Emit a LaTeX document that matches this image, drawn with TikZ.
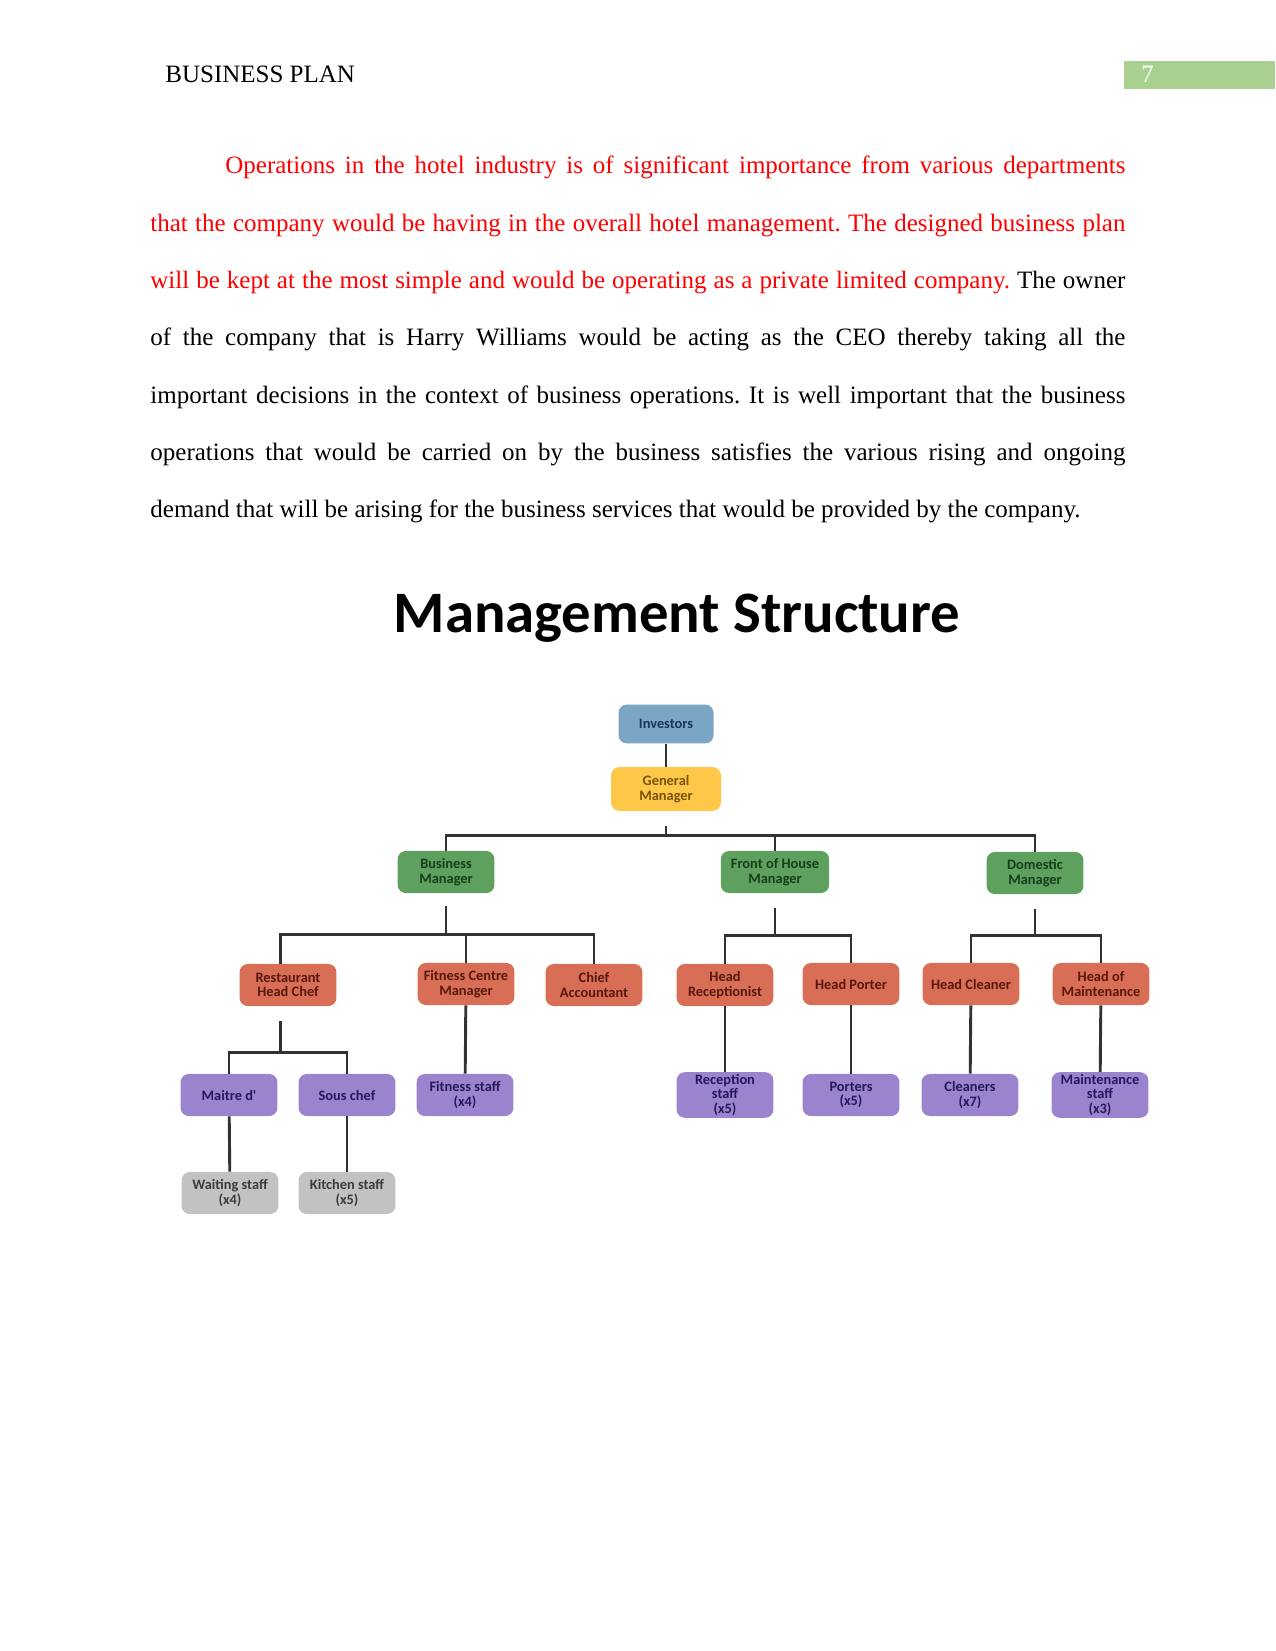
\documentclass[tikz,border=0pt]{standalone}
\usepackage{fontspec}
\setmainfont{Liberation Serif}
\newfontfamily\chartfont{Carlito}
\usepackage{tikz}
\usetikzlibrary{calc,positioning}
\definecolor{PlanRed}{RGB}{255,0,0}
\definecolor{PlanTab}{RGB}{169,208,142}
\definecolor{OrgLine}{RGB}{50,50,50}
\definecolor{OrgBlue}{RGB}{122,166,196}
\definecolor{OrgBlueText}{RGB}{28,52,92}
\definecolor{OrgGold}{RGB}{255,200,72}
\definecolor{OrgGoldText}{RGB}{120,84,10}
\definecolor{OrgGreen}{RGB}{94,160,94}
\definecolor{OrgGreenText}{RGB}{22,62,26}
\definecolor{OrgRed}{RGB}{216,110,86}
\definecolor{OrgRedText}{RGB}{88,24,14}
\definecolor{OrgPurple}{RGB}{155,132,205}
\definecolor{OrgPurpleText}{RGB}{40,24,90}
\definecolor{OrgGrey}{RGB}{194,194,194}
\definecolor{OrgGreyText}{RGB}{60,60,60}

\begin{document}
\begin{tikzpicture}[x=0.48pt,y=-0.48pt,
  orgbox/.style={rounded corners=4pt,minimum width=46.5pt,minimum height=20.2pt,inner sep=1pt,align=center,
    font=\chartfont\bfseries\fontsize{6.9}{7}\selectfont},
  invbox/.style={orgbox,fill=OrgBlue,text=OrgBlueText,minimum width=45.6pt,minimum height=18.7pt},
  gmbox/.style={orgbox,fill=OrgGold,text=OrgGoldText,minimum width=52.8pt,minimum height=21pt},
  mgrbox/.style={orgbox,fill=OrgGreen,text=OrgGreenText},
  headbox/.style={orgbox,fill=OrgRed,text=OrgRedText},
  staffbox/.style={orgbox,fill=OrgPurple,text=OrgPurpleText},
  crewbox/.style={orgbox,fill=OrgGrey,text=OrgGreyText},
  orgline/.style={OrgLine,line width=1.4pt}]
  \useasboundingbox (0,0) rectangle (1275,1651);
  \node[anchor=base west,inner sep=0,font=\fontsize{12}{14}\selectfont] (head) at (165,83) {BUSINESS PLAN};
  \fill[PlanTab] (1124,61) rectangle (1275,89);
  \node[anchor=base west,inner sep=0,text=white,font=\fontsize{12}{14}\selectfont] (pagenum) at (1141,83) {7};
  \node[anchor=base west,inner sep=0,text width=468pt,align=justify,
    font=\fontsize{12}{27.5}\selectfont\frenchspacing] (para) at (150,174) {\hspace*{36pt}\textcolor{PlanRed}{Operations in the hotel industry is of significant importance from various departments\linebreak
    that the company would be having in the overall hotel management. The designed business plan\linebreak
    will be kept at the most simple and would be operating as a private limited company.} The owner\linebreak
    of the company that is Harry Williams would be acting as the CEO thereby taking all the\linebreak
    important decisions in the context of business operations. It is well important that the business\linebreak
    operations that would be carried on by the business satisfies the various rising and ongoing\linebreak
    demand that will be arising for the business services that would be provided by the company.};

  \node[anchor=base,inner sep=0,font=\chartfont\bfseries\fontsize{28.2}{30}\selectfont] (title) at (677,632) {Management Structure};
  \node[invbox] (inv) at (666,724) {Investors};
  \node[gmbox] (gm) at (666,789) {General\\Manager};

  \node[mgrbox] (bm) at (446,872) {Business\\Manager};
  \node[mgrbox,minimum width=52pt] (foh) at (775,872) {Front of House\\Manager};
  \node[mgrbox] (dom) at (1035,873) {Domestic\\Manager};

  \node[headbox] (rhc) at (288,985) {Restaurant\\Head Chef};
  \node[headbox] (fcm) at (466,984) {Fitness Centre\\Manager};
  \node[headbox] (ca) at (594,985) {Chief\\Accountant};
  \node[headbox] (hr) at (725,985) {Head\\Receptionist};
  \node[headbox] (hp) at (851,984) {Head Porter};
  \node[headbox] (hc) at (971,984) {Head Cleaner};
  \node[headbox] (hm) at (1101,984) {Head of\\Maintenance};

  \node[staffbox] (md) at (229,1095) {Maitre d'};
  \node[staffbox] (sc) at (347,1095) {Sous chef};
  \node[staffbox] (fs) at (465,1095) {Fitness staff\\(x4)};
  \node[staffbox] (rs) at (725,1095) {Reception\\staff\\(x5)};
  \node[staffbox] (po) at (851,1095) {Porters\\(x5)};
  \node[staffbox] (cl) at (970,1095) {Cleaners\\(x7)};
  \node[staffbox] (ms) at (1100,1095) {Maintenance\\staff\\(x3)};

  \node[crewbox] (ws) at (230,1193) {Waiting staff\\(x4)};
  \node[crewbox] (ks) at (347,1193) {Kitchen staff\\(x5)};

  \draw[orgline] (inv) -- (gm);
  \coordinate (gmbus) at ($(gm.south)+(0,24)$);
  \draw[orgline,shorten <=7pt] (gm.south) -- (gmbus);
  \draw[orgline] (bm.north) |- (gmbus) -| (dom.north);
  \draw[orgline] (foh.north) -- (foh.north |- gmbus);

  \coordinate (bmbus) at ($(bm.south)+(0,41)$);
  \draw[orgline,shorten <=6pt] (bm.south) -- (bmbus);
  \draw[orgline] ([xshift=-3.8pt]rhc.north) |- (bmbus) -| (ca.north);
  \draw[orgline] (fcm.north) -- (fcm.north |- bmbus);

  \coordinate (fohbus) at ($(foh.south)+(0,42)$);
  \draw[orgline,shorten <=7pt] (foh.south) -- (fohbus);
  \draw[orgline] (hr.north) |- (fohbus) -| (hp.north);

  \coordinate (dombus) at ($(dom.south)+(0,41)$);
  \draw[orgline,shorten <=7pt] (dom.south) -- (dombus);
  \draw[orgline] (hc.north) |- (dombus) -| (hm.north);

  \coordinate (rhcbus) at ($([xshift=-3.8pt]rhc.south)+(0,46)$);
  \draw[orgline,shorten <=7pt] ([xshift=-3.8pt]rhc.south) -- (rhcbus);
  \draw[orgline] (md.north) |- (rhcbus) -| (sc.north);

  \draw[orgline] (fcm) -- (fs);
  \draw[orgline] (hr) -- (rs);
  \draw[orgline] (hp) -- (po);
  \draw[orgline] (hc) -- (cl);
  \draw[orgline] (hm) -- (ms);
  \draw[orgline] (md) -- (ws);
  \draw[orgline] (sc) -- (ks);
\end{tikzpicture}
\end{document}
